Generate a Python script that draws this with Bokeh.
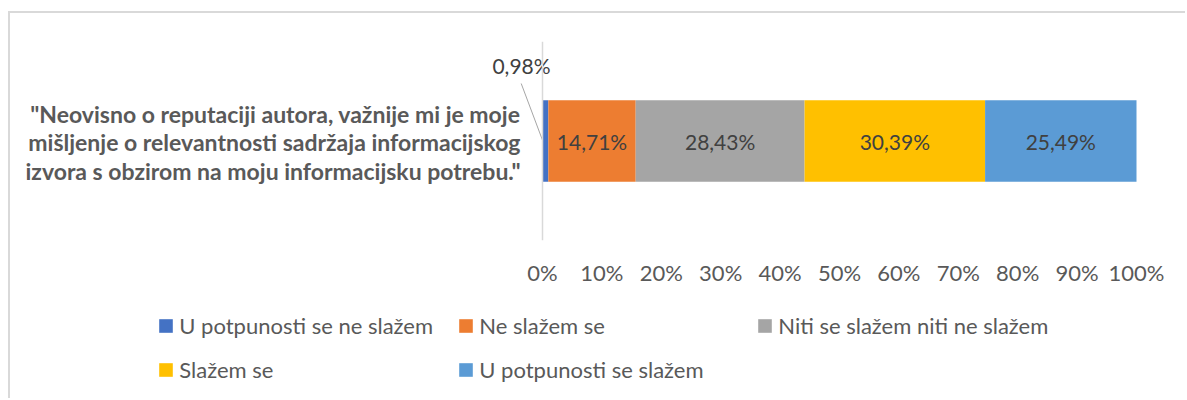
from bokeh.plotting import figure
from bokeh.layouts import column
from bokeh.models import ColumnDataSource, Range1d, FixedTicker, Span, Legend, LegendItem
from bokeh.embed import file_html
from bokeh.resources import INLINE
from bokeh.core.properties import value

# ---------------- data ----------------
category_lines = [
    '"Neovisno o reputaciji autora, važnije mi je moje',
    'mišljenje o relevantnosti sadržaja informacijskog',
    'izvora s obzirom na moju informacijsku potrebu."',
]
series = [
    "U potpunosti se ne slažem",
    "Ne slažem se",
    "Niti se slažem niti ne slažem",
    "Slažem se",
    "U potpunosti se slažem",
]
values = [0.98, 14.71, 28.43, 30.39, 25.49]
tick_values = [0, 10, 20, 30, 40, 50, 60, 70, 80, 90, 100]

# ---------------- style / layout ----------------
colors = ["#4472C4", "#ED7D31", "#A5A5A5", "#FFC000", "#5B9BD5"]
FONT = "Lato"
OX, OY = 10, 13              # page position of canvas origin (margin 8/11 + 2px border)
W = 1175
H1, H2 = 287, 98
PX0, PX100 = 542, 1136       # page x of 0% and 100%
FTOP, FBOT = 41, 240         # page y of plot frame top / bottom
ppu = (PX100 - PX0) / 100.0


def dx(px):
    return (px - PX0) / ppu


def dy(py):
    return (FBOT - py) / (FBOT - FTOP)


keys = [f"s{i}" for i in range(len(values))]
src = ColumnDataSource({"y": [0.5], **{k: [v] for k, v in zip(keys, values)}})

# ================= main chart =================
p = figure(
    width=W, height=H1,
    x_range=Range1d(dx(OX), dx(OX + W)),
    y_range=Range1d(0, 1),
    output_backend="svg", toolbar_location=None,
    y_axis_location=None,
    min_border_left=0, min_border_right=0,
    min_border_top=FTOP - OY, min_border_bottom=H1 - (FBOT - OY),
)
p.outline_line_color = None
p.xgrid.visible = False
p.ygrid.visible = False

renderers = p.hbar_stack(keys, y="y", height=0.41, color=colors, source=src, line_color=None)

# vertical category axis line
p.add_layout(Span(location=0, dimension="height", line_color="#D9D9D9", line_width=1.5))

# data labels
starts = [sum(values[:i]) for i in range(len(values))]
centers = [s + v / 2 for s, v in zip(starts, values)]
labels = [f"{v:.2f}%".replace(".", ",") for v in values]
p.text(x=centers[1:], y=[0.5] * (len(values) - 1), text=labels[1:],
       text_align="center", text_baseline="middle",
       text_font=value(FONT), text_font_size=value("21px"), text_color="#404040")
# small first value: label above the bar with a leader line
p.segment(x0=[dx(520.7)], y0=[dy(83)], x1=[starts[0] + 0.02], y1=[dy(140)],
          line_color="#A6A6A6", line_width=1)
p.text(x=[dx(521)], y=[dy(65)], text=[labels[0]],
       text_align="center", text_baseline="middle",
       text_font=value(FONT), text_font_size=value("21px"), text_color="#404040")

# category label (right aligned, bold, three lines)
p.text(x=[dx(520)] * 3, y=[dy(113), dy(141), dy(170)], text=category_lines,
       text_align="right", text_baseline="middle",
       text_font=value(FONT), text_font_style="bold",
       text_font_size=value("23px"), text_color="#595959")

# x axis
ax = p.xaxis[0]
ax.ticker = FixedTicker(ticks=tick_values)
ax.major_label_overrides = {t: f"{t}%" for t in tick_values}
ax.axis_line_color = None
ax.major_tick_line_color = None
ax.minor_tick_line_color = None
ax.major_label_standoff = 12
ax.major_label_text_font = FONT
ax.major_label_text_font_size = "22px"
ax.major_label_text_color = "#595959"

# ================= legend strip =================
q = figure(
    width=W, height=H2,
    x_range=Range1d(0, W), y_range=Range1d(0, H2),
    output_backend="svg", toolbar_location=None,
    x_axis_location=None, y_axis_location=None,
    min_border_left=0, min_border_right=0, min_border_top=0, min_border_bottom=0,
)
q.outline_line_color = None
q.xgrid.visible = False
q.ygrid.visible = False
leg_renderers = q.hbar_stack(keys, y="y", height=0.41, color=colors, source=src, line_color=None)
for r in leg_renderers:
    r.visible = False

leg_pos = [(159, 326), (459, 326), (758, 326), (159, 370.5), (459, 370.5)]
LH = 25
GW = 17
for r, name, (lx, ly) in zip(leg_renderers, series, leg_pos):
    lg = Legend(
        items=[LegendItem(label=name, renderers=[r])],
        location=(lx - OX - 1.7, (OY + H1 + H2) - (ly + LH / 2)),
        orientation="horizontal",
        glyph_width=GW, glyph_height=GW, label_height=13, label_standoff=5,
        padding=0, margin=0, spacing=0,
        border_line_color=None, background_fill_alpha=0,
        label_text_font=FONT, label_text_font_size="22px", label_text_color="#595959",
    )
    q.add_layout(lg)

layout = column(
    p, q, spacing=0,
    styles={
        "margin-left": "8px",
        "margin-top": "11px",
        "border-top": "2px solid #D9D9D9",
        "border-left": "2px solid #D9D9D9",
    },
)

open("out.html", "w").write(file_html(layout, INLINE))
